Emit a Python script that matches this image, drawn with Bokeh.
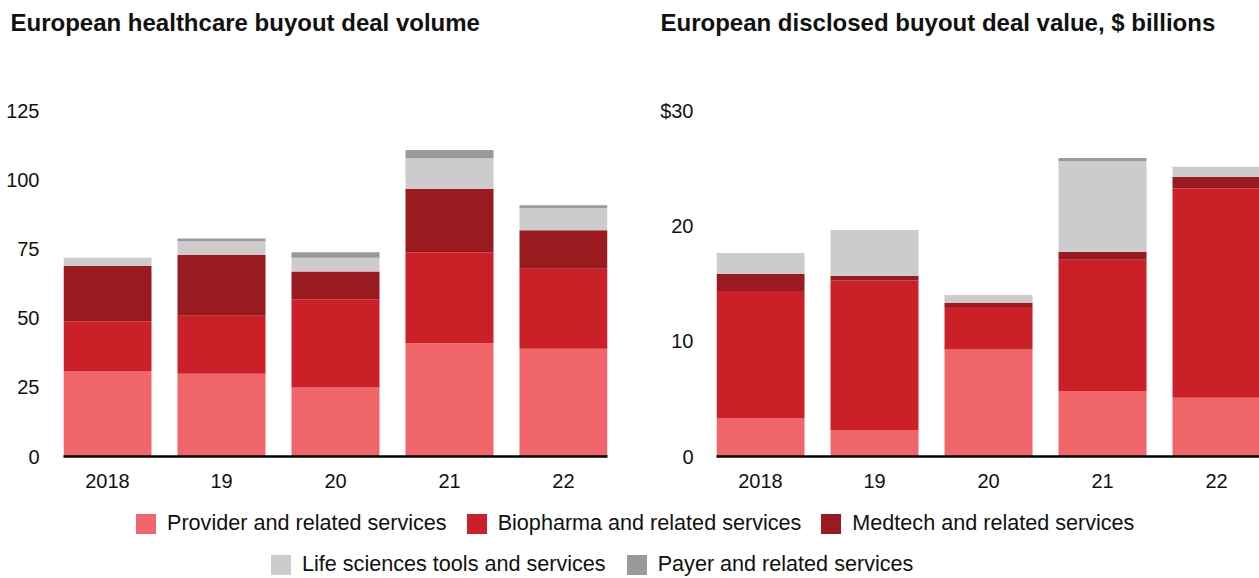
from bokeh.plotting import figure
from bokeh.models import ColumnDataSource, Range1d, FixedTicker, Legend, LegendItem
from bokeh.layouts import column, row
from bokeh.embed import file_html
from bokeh.resources import INLINE

# ---------------- data ----------------
years = ["2018", "19", "20", "21", "22"]
segments = [
    "Provider and related services",
    "Biopharma and related services",
    "Medtech and related services",
    "Life sciences tools and services",
    "Payer and related services",
]
colors = ["#F0666A", "#CC2028", "#991B20", "#CCCCCC", "#999999"]

vol_provider = [31, 30, 25, 41, 39]
vol_biopharma = [18, 21, 32, 33, 29]
vol_medtech = [20, 22, 10, 23, 14]
vol_lifesci = [3, 5, 5, 11, 8]
vol_payer = [0, 1, 2, 3, 1]

val_provider = [3.3, 2.3, 9.3, 5.7, 5.1]
val_biopharma = [11.1, 13.0, 3.7, 11.4, 18.2]
val_medtech = [1.5, 0.4, 0.35, 0.7, 1.0]
val_lifesci = [1.8, 4.0, 0.6, 7.9, 0.9]
val_payer = [0.0, 0.0, 0.05, 0.25, 0.0]

vol_ticks = [0, 25, 50, 75, 100, 125]
val_ticks = [0, 10, 20, 30]
val_tick_labels = ["0", "10", "20", "$30"]

title_left = "European healthcare buyout deal volume"
title_right = "European disclosed buyout deal value, $ billions"

FONT = "Liberation Sans"
TXT = "#111111"
keys = ["provider", "biopharma", "medtech", "lifesci", "payer"]


def make_chart(title, vals, ticks, tick_labels, y_end, width, border_left,
               border_right, x_end, title_offset, label_standoff):
    xs = list(range(len(years)))
    data = {"x": xs}
    for k, v in zip(keys, vals):
        data[k] = v
    src = ColumnDataSource(data)
    p = figure(width=width, height=498, output_backend="svg", toolbar_location=None,
               x_range=Range1d(-0.386, x_end), y_range=Range1d(0, y_end),
               min_border_left=border_left, min_border_right=border_right,
               min_border_top=40, min_border_bottom=42)
    p.vbar_stack(keys, x="x", width=0.772, source=src, fill_color=colors,
                 line_color=None)
    p.title.text = title
    p.title.text_font = FONT
    p.title.text_font_style = "bold"
    p.title.text_font_size = "24px"
    p.title.text_color = TXT
    p.title.offset = title_offset
    p.outline_line_color = None
    p.grid.visible = False
    p.background_fill_color = "white"
    p.border_fill_color = "white"

    xa = p.xaxis[0]
    xa.ticker = FixedTicker(ticks=xs)
    xa.major_label_overrides = {i: y for i, y in zip(xs, years)}
    xa.major_tick_line_color = None
    xa.minor_tick_line_color = None
    xa.axis_line_color = "black"
    xa.axis_line_width = 2.5
    xa.major_label_standoff = 11
    xa.major_label_text_font = FONT
    xa.major_label_text_font_size = "20px"
    xa.major_label_text_color = TXT

    ya = p.yaxis[0]
    ya.ticker = FixedTicker(ticks=ticks)
    ya.major_label_overrides = {t: l for t, l in zip(ticks, tick_labels)}
    ya.axis_line_color = None
    ya.major_tick_line_color = None
    ya.minor_tick_line_color = None
    ya.major_label_standoff = label_standoff
    ya.major_label_text_font = FONT
    ya.major_label_text_font_size = "20px"
    ya.major_label_text_color = TXT
    return p


p1 = make_chart(title_left,
                [vol_provider, vol_biopharma, vol_medtech, vol_lifesci, vol_payer],
                vol_ticks, [str(t) for t in vol_ticks], 150.7,
                628, 63, 21, 4.386, -53, 18)
p2 = make_chart(title_right,
                [val_provider, val_biopharma, val_medtech, val_lifesci, val_payer],
                val_ticks, val_tick_labels, 36.17,
                631, 88, 0, 4.377, -56, 17)

# ---------------- legend ----------------
lf = figure(width=1259, height=80, output_backend="svg", toolbar_location=None,
            x_range=(0, 1), y_range=(0, 1), min_border=0,
            x_axis_location=None, y_axis_location=None)
lf.grid.visible = False
lf.outline_line_color = None
# zero-size proxy renderers, used only to draw the legend swatches
proxy = ColumnDataSource({"x": [0], "top": [0]})
items = []
for name, c in zip(segments, colors):
    r = lf.vbar(x="x", top="top", bottom="top", width=0, source=proxy,
                fill_color=c, line_color=None)
    items.append(LegendItem(label=name, renderers=[r]))


def make_legend(its, loc, spacing):
    return Legend(items=its, location=loc, orientation="horizontal",
                  glyph_width=25, glyph_height=25, label_standoff=9,
                  spacing=spacing, padding=0, margin=0, border_line_color=None,
                  background_fill_alpha=0, label_text_font=FONT,
                  label_text_font_size="21.6px", label_text_color=TXT)


lf.add_layout(make_legend(items[:3], (133, 42), 17))
lf.add_layout(make_legend(items[3:], (268, 1), 18))

layout = column(row(p1, p2), lf)
open("out.html", "w").write(file_html(layout, INLINE))
